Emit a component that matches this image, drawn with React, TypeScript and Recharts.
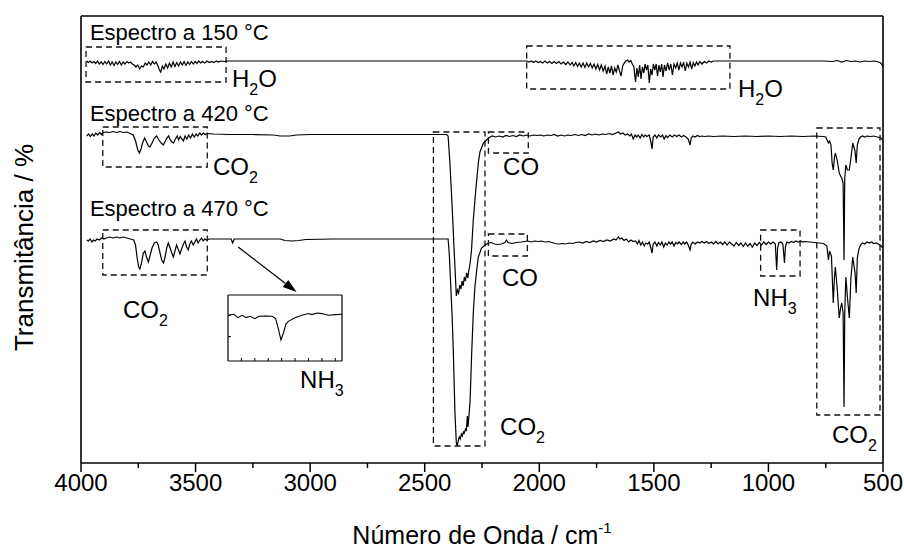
import React from 'react';
import { LineChart, Line, XAxis, YAxis, ReferenceArea, ReferenceDot, ReferenceLine } from 'recharts';

const SANS = '"Liberation Sans", Arial, sans-serif';
const NARROW = '"Liberation Sans Narrow", "Arial Narrow", "Liberation Sans", sans-serif';

// wavenumber (cm-1) / transmittance (a.u., offset spectra)
const spectrum150: [number, number][] = [
  [3975, 402], [3968, 400.5], [3960, 402], [3952, 400], [3944, 401.5], [3936, 399.5], [3928, 402], [3920, 399],
  [3912, 401], [3904, 398.5], [3896, 401.5], [3888, 399], [3880, 402], [3872, 398], [3864, 401], [3856, 397.5],
  [3848, 401], [3840, 398.5], [3832, 401.5], [3824, 398], [3816, 401], [3808, 399], [3800, 401.5], [3792, 400],
  [3784, 401], [3776, 399], [3768, 398], [3760, 396], [3752, 398], [3744, 394], [3736, 397], [3728, 396],
  [3720, 400], [3712, 398], [3704, 401], [3696, 398], [3688, 401.5], [3680, 399], [3672, 401], [3664, 397],
  [3658, 393], [3652, 391], [3645, 397], [3638, 394], [3630, 399], [3622, 395], [3614, 400], [3606, 396],
  [3598, 401], [3590, 396.5], [3582, 400.5], [3574, 397], [3566, 401], [3558, 398], [3550, 401.5], [3542, 397.5],
  [3534, 401], [3526, 398.5], [3518, 401.5], [3510, 399], [3502, 401.5], [3494, 399.5], [3486, 402], [3478, 400],
  [3470, 401.5], [3460, 400], [3450, 402], [3440, 400.5], [3430, 401.5], [3420, 400.5], [3410, 402], [3400, 401],
  [3390, 402], [3375, 401.5], [3360, 402], [3000, 402], [2600, 402], [2300, 402], [2100, 402],
  [2055, 402], [2045, 401], [2035, 402], [2025, 400.5], [2015, 402], [2005, 400.5], [1995, 401.5], [1985, 400],
  [1975, 402], [1965, 400], [1955, 401.5], [1945, 399.5], [1935, 401.5], [1925, 399.5], [1915, 401.5], [1905, 399],
  [1895, 401], [1885, 398.5], [1875, 401], [1865, 398], [1857, 400.5], [1849, 397], [1841, 400.5], [1833, 396.5],
  [1825, 400], [1817, 396], [1809, 400], [1801, 395.5], [1793, 400], [1785, 396], [1777, 399.5], [1769, 395],
  [1761, 399], [1753, 394], [1745, 398.5], [1737, 393], [1729, 398], [1721, 392], [1713, 397], [1706, 389],
  [1699, 396], [1692, 390], [1685, 397], [1678, 388], [1671, 395], [1664, 391], [1657, 398], [1650, 392],
  [1643, 387], [1636, 397], [1629, 400], [1622, 402], [1615, 403], [1608, 401], [1601, 402.5], [1594, 399],
  [1587, 396], [1580, 381], [1574, 395], [1568, 386], [1562, 398], [1556, 384], [1550, 396], [1544, 390],
  [1538, 399], [1532, 393], [1526, 398], [1520, 380], [1514, 394], [1508, 388], [1502, 399], [1496, 393],
  [1490, 399], [1484, 387], [1478, 398], [1472, 391], [1466, 399], [1460, 386], [1454, 398], [1447, 392],
  [1440, 400], [1433, 393], [1426, 399], [1419, 388], [1412, 399], [1405, 395], [1398, 400], [1391, 393],
  [1384, 400], [1377, 396], [1370, 401], [1363, 392], [1356, 400], [1349, 396], [1342, 401], [1335, 394],
  [1328, 400.5], [1321, 397], [1314, 401], [1307, 398], [1300, 401.5], [1290, 399], [1280, 401.5], [1270, 400],
  [1260, 402], [1250, 401], [1240, 402], [1100, 402], [900, 402], [760, 402], [720, 401.5], [700, 402.5],
  [680, 401], [660, 402.5], [640, 401.5], [620, 402], [600, 401], [580, 402], [560, 401.5], [540, 402],
  [520, 401], [510, 400], [503, 398], [500, 396],
];

const spectrum420: [number, number][] = [
  [3975, 327], [3967, 329], [3959, 326.5], [3951, 329], [3943, 327], [3935, 330], [3927, 328], [3919, 330.5],
  [3911, 328.5], [3903, 330.5], [3890, 331], [3875, 330.5], [3860, 331.5], [3845, 330.5], [3830, 331.5], [3815, 330.5],
  [3800, 331], [3785, 329.5], [3772, 328], [3762, 322], [3752, 313], [3745, 310], [3738, 314], [3730, 321],
  [3722, 325], [3714, 321], [3706, 317], [3699, 316], [3690, 320], [3680, 325], [3670, 327], [3660, 323],
  [3650, 320], [3641, 318], [3632, 322], [3625, 325], [3618, 327], [3610, 323], [3603, 321], [3596, 320],
  [3588, 324], [3580, 327], [3574, 323], [3567, 326.5], [3560, 324], [3553, 322], [3546, 327], [3538, 324],
  [3530, 328], [3522, 325], [3514, 329], [3506, 326], [3498, 329], [3490, 327], [3482, 330], [3474, 328],
  [3466, 330], [3458, 328.5], [3450, 329.5], [3420, 329], [3350, 328.5], [3250, 328.5], [3160, 328], [3130, 327],
  [3090, 327], [3060, 328], [3000, 328.5], [2800, 328.5], [2600, 328.5], [2450, 328.5], [2405, 328.5],
  [2398, 327], [2390, 300], [2380, 255], [2370, 205], [2362, 167], [2357, 173], [2352, 170], [2347, 178],
  [2342, 174], [2337, 182], [2332, 177], [2327, 186], [2322, 182], [2317, 190], [2312, 185], [2308, 192],
  [2303, 198], [2296, 212], [2288, 243], [2276, 276], [2266, 300], [2259, 311], [2244, 320], [2222, 325],
  [2205, 327], [2190, 326], [2175, 327], [2160, 326], [2145, 327.5], [2130, 326.5], [2115, 327.5], [2100, 326.5],
  [2085, 328], [2070, 327], [2055, 328], [2040, 327], [2025, 328], [2010, 327.5], [1995, 328], [1980, 327],
  [1965, 328], [1950, 327.5], [1935, 328.5], [1920, 327], [1905, 328], [1890, 327], [1875, 328], [1860, 327.5],
  [1845, 328.5], [1830, 327.5], [1815, 328.5], [1800, 327.5], [1785, 329], [1770, 328], [1755, 329], [1740, 328],
  [1725, 329], [1710, 328.5], [1695, 329.5], [1680, 328.5], [1665, 330], [1655, 331], [1645, 329], [1635, 330],
  [1625, 328], [1615, 329], [1605, 327], [1598, 329], [1590, 324], [1582, 328], [1575, 326], [1568, 328],
  [1560, 325], [1552, 328.5], [1545, 326], [1537, 328], [1530, 326.5], [1520, 328], [1512, 320], [1508, 314],
  [1503, 326], [1495, 328], [1487, 325], [1480, 328], [1470, 326], [1462, 328], [1455, 324], [1447, 327.5],
  [1440, 325.5], [1430, 328], [1420, 326], [1410, 328], [1400, 326.5], [1390, 328], [1380, 326], [1370, 327.5],
  [1360, 326], [1350, 324], [1342, 318], [1337, 325], [1330, 327], [1320, 326], [1310, 327.5], [1300, 326.5],
  [1290, 327], [1280, 326.5], [1260, 327], [1240, 326.5], [1200, 327], [1150, 326.5], [1100, 327], [1050, 326.5],
  [1000, 327], [950, 326.5], [900, 327], [850, 326.5], [800, 327], [760, 326.5], [750, 326], [742, 322],
  [738, 320], [733, 322], [727, 318], [722, 300], [717, 293], [712, 305], [708, 310], [700, 303],
  [691, 290], [685, 287], [680, 285], [674, 280], [670, 203], [667, 285], [662, 298], [655, 293],
  [647, 293], [640, 305], [632, 320], [622, 312], [617, 300], [612, 318], [605, 324], [598, 326],
  [590, 327], [580, 326], [570, 327], [555, 326.5], [540, 327], [525, 326], [510, 325], [500, 323],
];

const spectrum470: [number, number][] = [
  [3975, 223], [3968, 222], [3960, 224], [3952, 221], [3945, 223], [3938, 222], [3930, 224], [3920, 223],
  [3910, 225], [3900, 224], [3890, 225], [3875, 226], [3860, 225], [3845, 226], [3830, 225], [3815, 226],
  [3800, 225], [3785, 224], [3770, 223], [3762, 218], [3755, 205], [3748, 196], [3743, 194], [3736, 200],
  [3728, 210], [3721, 212], [3714, 206], [3706, 201], [3698, 208], [3690, 215], [3680, 220], [3670, 221],
  [3663, 218], [3655, 210], [3648, 203], [3640, 200], [3634, 205], [3626, 215], [3619, 220], [3611, 215],
  [3604, 210], [3597, 206], [3590, 212], [3583, 218], [3576, 214], [3568, 209], [3561, 214], [3553, 219],
  [3546, 222], [3539, 216], [3532, 213], [3525, 219], [3518, 222], [3510, 218], [3503, 221], [3496, 224],
  [3489, 220], [3481, 223], [3474, 225], [3467, 222], [3460, 224], [3452, 223], [3440, 224], [3400, 224],
  [3345, 224], [3338, 220], [3332, 224], [3200, 224], [3130, 224], [3110, 222.5], [3080, 222], [3050, 222.5],
  [3020, 223.5], [2900, 224], [2700, 224], [2500, 224], [2410, 224], [2398, 224], [2393, 210], [2388, 185],
  [2380, 145], [2375, 110], [2368, 50], [2362, 20], [2358, 17], [2353, 23], [2349, 26], [2345, 24],
  [2340, 29], [2336, 27], [2331, 31], [2327, 30], [2322, 34], [2318, 33], [2314, 47], [2311, 36],
  [2306, 50], [2302, 62], [2295, 110], [2288, 150], [2281, 176], [2273, 193], [2266, 206], [2252, 215],
  [2237, 218], [2222, 220], [2210, 220.5], [2195, 219], [2180, 218.5], [2165, 219], [2150, 220.5], [2143, 223],
  [2136, 220.5], [2120, 219.5], [2100, 220.5], [2080, 221], [2065, 221.5],
  [2050, 222], [2035, 221], [2020, 222], [2005, 221.5], [1990, 222], [1975, 221], [1960, 221.5], [1945, 220.5],
  [1930, 219.5], [1915, 219], [1900, 219.5], [1885, 219], [1870, 220], [1855, 219.5], [1840, 220.5], [1825, 221],
  [1810, 220], [1795, 221.5], [1780, 220.5], [1765, 222], [1750, 221], [1735, 222.5], [1720, 221.5], [1705, 223],
  [1690, 222], [1675, 224], [1665, 223], [1655, 226], [1648, 224], [1640, 225], [1630, 222.5], [1620, 224],
  [1610, 221], [1600, 223], [1590, 221.5], [1580, 222], [1572, 219], [1565, 222.5], [1557, 218], [1550, 221],
  [1542, 217], [1535, 220], [1527, 219], [1520, 221], [1512, 214], [1508, 210], [1503, 219], [1495, 221],
  [1487, 217], [1480, 220.5], [1472, 218], [1465, 221], [1457, 216], [1450, 220], [1442, 218], [1435, 221],
  [1427, 219], [1420, 221], [1412, 217], [1405, 220.5], [1397, 219], [1390, 221], [1380, 218.5], [1372, 221],
  [1365, 219], [1357, 221], [1350, 218], [1342, 213], [1337, 219], [1330, 221], [1320, 219], [1310, 221],
  [1300, 220], [1290, 221.5], [1280, 220], [1270, 221.5], [1260, 219.5], [1250, 221], [1240, 219], [1230, 221.5],
  [1220, 219], [1210, 221], [1200, 218.5], [1190, 221], [1180, 218], [1170, 221], [1160, 219], [1150, 217],
  [1140, 220.5], [1130, 217.5], [1120, 220], [1110, 216.5], [1100, 220], [1090, 217], [1080, 219.5], [1070, 216],
  [1060, 220], [1050, 217.5], [1040, 220.5], [1030, 218], [1020, 221], [1010, 218.5], [1000, 221], [990, 219],
  [980, 221], [970, 219], [964, 193], [960, 215], [955, 220], [945, 221], [937, 219], [930, 200],
  [926, 216], [920, 221], [910, 220], [900, 221.5], [890, 220.5], [880, 222], [870, 221], [860, 222],
  [850, 221], [840, 221.5], [820, 221], [800, 220.5], [780, 220], [760, 219.5], [745, 217], [738, 203],
  [733, 212], [725, 207], [717, 160], [712, 185], [708, 196], [700, 175], [691, 145], [685, 155],
  [680, 160], [674, 150], [670, 56], [667, 150], [662, 186], [655, 165], [647, 145], [640, 185],
  [632, 206], [622, 190], [617, 170], [612, 205], [605, 214], [598, 218], [590, 220], [580, 219],
  [570, 221], [560, 220], [550, 221], [540, 219.5], [530, 220], [520, 219], [510, 217.5], [500, 215],
];

// inset: zoom of the 470 °C spectrum around the NH3 band
const insetSpectrum: [number, number][] = [
  [3420, 45], [3411.5, 46], [3405, 42.7], [3399, 45], [3393, 42.7], [3387, 44], [3380, 41.7], [3374, 44],
  [3364, 44.3], [3354, 44], [3349, 41.7], [3345.5, 33.3], [3341, 20.7], [3337, 28.3], [3333.5, 36.7], [3329.5, 39.3],
  [3320, 42.7], [3310, 45], [3300, 46.7], [3295, 45.7], [3287, 47.3], [3280, 46.7], [3270, 45], [3260, 45.7],
  [3250, 46],
];

const xTicks = [4000, 3750, 3500, 3250, 3000, 2750, 2500, 2250, 2000, 1750, 1500, 1250, 1000, 750, 500];
const rightTicks = [16, 38, 60, 83, 106, 128, 151, 173, 195, 217, 239, 262, 284, 306, 329, 351, 373, 395, 418, 440];
const insetXTicks = [3400, 3380, 3360, 3340, 3320, 3300, 3280, 3260];
const insetYTicks = [24, 45];

// dashed boxes around absorption bands: [x1, x2, y1, y2]
const bandBoxes: [number, number, number, number][] = [
  [3978, 3367, 381, 416],
  [2055, 1168, 374, 417],
  [3905, 3449, 296, 336],
  [2462, 2237, 17, 331],
  [2222, 2048, 310, 331],
  [3905, 3449, 188, 233],
  [2222, 2052, 207, 229],
  [1034, 862, 187, 233],
  [789, 513, 48, 335],
];

// text labels: wavenumber, y, main text, subscript, trailing text, size
const bandLabels: [number, number, string, string, string, number][] = [
  [3961, 423, 'Espectro a 150 °C', '', '', 22],
  [3961, 342, 'Espectro a 420 °C', '', '', 22],
  [3961, 247, 'Espectro a 470 °C', '', '', 22],
  [3341, 376, 'H', '2', 'O', 24],
  [1133, 366, 'H', '2', 'O', 24],
  [3424, 288, 'CO', '2', '', 24],
  [2158, 288, 'CO', '', '', 24],
  [3817, 145, 'CO', '2', '', 24],
  [2163, 177, 'CO', '', '', 24],
  [1067, 157, 'NH', '3', '', 24],
  [2171, 28, 'CO', '2', '', 24],
  [723, 20, 'CO', '2', '', 24],
  [3044, 75, 'NH', '3', '', 24],
];

const arrowSegment = [{ x: 3314, y: 216 }, { x: 3059, y: 171 }];

const toRows = (pairs: [number, number][]) => pairs.map(([w, t]) => ({ w, t }));

const BottomTick = ({ x, y, payload }: any) => {
  const major = payload.value % 500 === 0;
  return (
    <g>
      <line x1={x} y1={y} x2={x} y2={y + (major ? 9 : 5)} stroke="#000" strokeWidth={1.5} />
      {major && (
        <text x={x} y={y + 28} textAnchor="middle" fontSize={24} fontFamily={NARROW} fill="#000">
          {payload.value}
        </text>
      )}
    </g>
  );
};

const TopTick = ({ x, y }: any) => <line x1={x} y1={y} x2={x} y2={y + 4} stroke="#000" strokeWidth={1} />;
const RightTick = ({ x, y }: any) => <line x1={x} y1={y} x2={x - 4} y2={y} stroke="#000" strokeWidth={1} />;
const InsetBottomTick = ({ x, y }: any) => <line x1={x} y1={y} x2={x} y2={y - 3} stroke="#000" strokeWidth={1} />;
const InsetLeftTick = ({ x, y }: any) => <line x1={x} y1={y} x2={x + 3} y2={y} stroke="#000" strokeWidth={1} />;
const InsetRightTick = ({ x, y }: any) => <line x1={x} y1={y} x2={x - 3} y2={y} stroke="#000" strokeWidth={1} />;

const XTitle = ({ viewBox }: any) => (
  <text x={viewBox.x + viewBox.width / 2} y={viewBox.y + 81} textAnchor="middle" fontSize={25} fontFamily={NARROW} fill="#000">
    Número de Onda / cm
    <tspan dy={-11} fontSize={15}>-1</tspan>
  </text>
);

const YTitle = ({ viewBox }: any) => (
  <text
    transform={`translate(${viewBox.x + viewBox.width - 48}, ${viewBox.y + viewBox.height / 2 + 8}) rotate(-90)`}
    textAnchor="middle"
    fontSize={26}
    fontFamily={SANS}
    fill="#000"
  >
    Transmitância / %
  </text>
);

const makeTag = (main: string, sub: string, tail: string, size: number) => (p: any) => (
  <text x={p.cx} y={p.cy} fontSize={size} fontFamily={SANS} fill="#000">
    {main}
    {sub && <tspan dy={8} fontSize={16}>{sub}</tspan>}
    {tail && <tspan dy={-8} fontSize={size}>{tail}</tspan>}
  </text>
);

const ArrowShape = (p: any) => {
  const { x1, y1, x2, y2 } = p;
  const a = Math.atan2(y2 - y1, x2 - x1);
  const len = 14;
  const half = 4.5;
  const bx = x2 - len * Math.cos(a);
  const by = y2 - len * Math.sin(a);
  const nx = -Math.sin(a) * half;
  const ny = Math.cos(a) * half;
  return (
    <g>
      <line x1={x1} y1={y1} x2={bx} y2={by} stroke="#000" strokeWidth={1.2} />
      <polygon points={`${x2},${y2} ${bx + nx},${by + ny} ${bx - nx},${by - ny}`} fill="#000" />
    </g>
  );
};

const insetAxis = { stroke: '#000', strokeWidth: 1.2 };

const Inset = () => (
  <LineChart width={116} height={68} margin={{ top: 0, right: 0, bottom: 0, left: 0 }}>
    <XAxis
      dataKey="w"
      type="number"
      domain={[3250, 3420]}
      reversed
      allowDataOverflow
      ticks={insetXTicks}
      interval={0}
      tick={InsetBottomTick}
      tickLine={false}
      tickSize={0}
      tickMargin={0}
      height={1}
      axisLine={insetAxis}
    />
    <XAxis xAxisId="top" orientation="top" type="number" domain={[3250, 3420]} reversed tick={false} tickLine={false} height={1} axisLine={insetAxis} />
    <YAxis type="number" domain={[0, 65]} ticks={insetYTicks} interval={0} tick={InsetLeftTick} tickLine={false} tickSize={0} tickMargin={0} width={1} axisLine={insetAxis} />
    <YAxis yAxisId="right" orientation="right" type="number" domain={[0, 65]} ticks={insetYTicks} interval={0} tick={InsetRightTick} tickLine={false} tickSize={0} tickMargin={0} width={1} axisLine={insetAxis} />
    <Line data={toRows(insetSpectrum)} dataKey="t" type="linear" stroke="#000" strokeWidth={1.1} dot={false} isAnimationActive={false} />
  </LineChart>
);

const App: React.FC = () => {
  const axisStyle = { stroke: '#000', strokeWidth: 1.6 };
  return (
    <div style={{ position: 'absolute', left: 0, top: 0, width: 904, height: 548, background: '#fff' }}>
      <LineChart width={904} height={548} margin={{ top: 0, right: 0, bottom: 0, left: 0 }}>
        <XAxis
          dataKey="w"
          type="number"
          domain={[500, 4000]}
          reversed
          allowDataOverflow
          ticks={xTicks}
          interval={0}
          tick={BottomTick}
          tickLine={false}
          tickSize={0}
          tickMargin={0}
          height={85}
          axisLine={axisStyle}
          label={XTitle}
        />
        <XAxis
          xAxisId="top"
          orientation="top"
          type="number"
          domain={[500, 4000]}
          reversed
          ticks={xTicks}
          interval={0}
          tick={TopTick}
          tickLine={false}
          tickSize={0}
          tickMargin={0}
          height={16}
          axisLine={axisStyle}
        />
        <YAxis type="number" domain={[0, 447]} allowDataOverflow tick={false} tickLine={false} width={81} axisLine={axisStyle} label={YTitle} />
        <YAxis
          yAxisId="right"
          orientation="right"
          type="number"
          domain={[0, 447]}
          ticks={rightTicks}
          interval={0}
          tick={RightTick}
          tickLine={false}
          tickSize={0}
          tickMargin={0}
          width={21}
          axisLine={axisStyle}
        />
        {bandBoxes.map(([x1, x2, y1, y2], i) => (
          <ReferenceArea
            key={`box-${i}`}
            x1={x1}
            x2={x2}
            y1={y1}
            y2={y2}
            fill="none"
            fillOpacity={0}
            stroke="#111"
            strokeOpacity={1}
            strokeWidth={1.3}
            strokeDasharray="6 4"
            ifOverflow="visible"
          />
        ))}
        <Line data={toRows(spectrum150)} dataKey="t" type="linear" stroke="#000" strokeWidth={1.2} dot={false} isAnimationActive={false} />
        <Line data={toRows(spectrum420)} dataKey="t" type="linear" stroke="#000" strokeWidth={1.2} dot={false} isAnimationActive={false} />
        <Line data={toRows(spectrum470)} dataKey="t" type="linear" stroke="#000" strokeWidth={1.2} dot={false} isAnimationActive={false} />
        {bandLabels.map(([w, t, main, sub, tail, size], i) => (
          <ReferenceDot key={`lbl-${i}`} x={w} y={t} r={0} ifOverflow="visible" shape={makeTag(main, sub, tail, size)} />
        ))}
        <ReferenceLine segment={arrowSegment} ifOverflow="visible" shape={ArrowShape} />
      </LineChart>
      <div style={{ position: 'absolute', left: 227, top: 294 }}>
        <Inset />
      </div>
    </div>
  );
};

export default App;
